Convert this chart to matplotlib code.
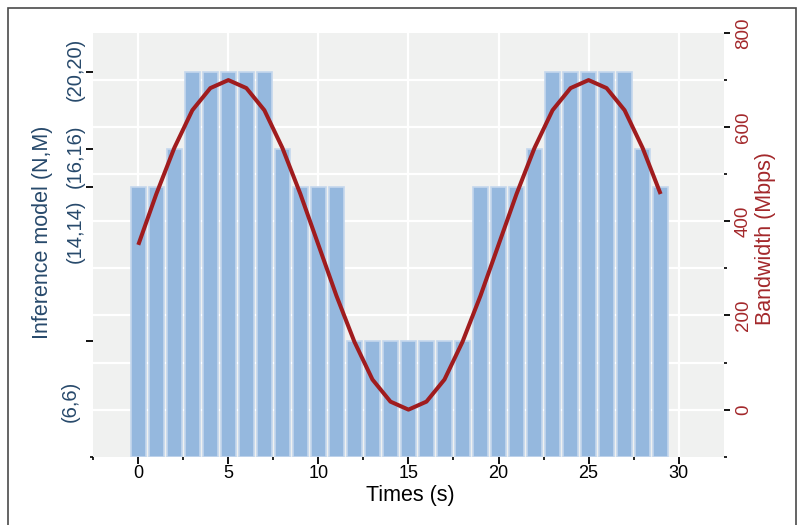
import matplotlib.pyplot as plt
from matplotlib.patches import Rectangle
import matplotlib.transforms as mtransforms

plt.rcParams['font.family'] = ['Liberation Sans', 'DejaVu Sans']

# data
times = list(range(30))
model_size = [14, 14, 16, 20, 20, 20, 20, 20, 16, 14,
              14, 14, 6, 6, 6, 6, 6, 6, 6, 14,
              14, 14, 16, 20, 20, 20, 20, 20, 16, 14]
bandwidth = [350, 458, 556, 636, 683, 700, 683, 636, 556, 458,
             350, 242, 144, 64, 17, 0, 17, 64, 144, 242,
             350, 458, 556, 636, 683, 700, 683, 636, 556, 458]

model_ticks = [6, 14, 16, 20]
model_labels = ['(6,6)', '(14,14)', '(16,16)', '(20,20)']
model_label_pos = [2.85, 11.7, 15.6, 20.1]
x_ticks = [0, 5, 10, 15, 20, 25, 30]
x_minor = [-2.5, 2.5, 7.5, 12.5, 17.5, 22.5, 27.5]
bw_ticks = [0, 200, 400, 600, 800]
bw_minor = [-100, 100, 300, 500, 700]
bw_grid = [0, 100, 200, 300, 400, 500, 600, 700]

blue_txt = '#27496b'
red_txt = '#a3282b'
bar_col = '#95b8de'
bar_edge = '#c4d7ed'
line_col = '#a01c1e'

fig = plt.figure(figsize=(8.02, 5.25), dpi=100)
rect = [0.1163, 0.1301, 0.786, 0.807]

# background panel with grid
ax_bg = fig.add_axes(rect, zorder=0)
ax_bg.set_facecolor('#f0f1f0')
ax_bg.set_xlim(-2.5, 32.5)
ax_bg.set_ylim(-100, 800)
ax_bg.set_xticks(x_ticks)
ax_bg.set_yticks(bw_grid)
ax_bg.grid(True, color='white', lw=1.6)
ax_bg.tick_params(length=0, labelleft=False, labelbottom=False)
for s in ax_bg.spines.values():
    s.set_visible(False)

# bars
ax = fig.add_axes(rect, zorder=1)
ax.patch.set_visible(False)
ax.bar(times, model_size, width=0.85, color=bar_col, edgecolor=bar_edge, lw=1.2)
ax.set_xlim(-2.5, 32.5)
ax.set_ylim(0, 22)
ax.set_xticks(x_ticks)
ax.set_xticks(x_minor, minor=True)
ax.set_yticks(model_ticks)
ax.set_yticks([0], minor=True)
ax.set_yticklabels([])
ax.tick_params(axis='x', length=5, width=1.3, pad=1, labelsize=13)
ax.tick_params(axis='y', length=5, width=1.3)
ax.tick_params(which='minor', length=2, width=1.2)
for s in ax.spines.values():
    s.set_visible(False)

trans = mtransforms.blended_transform_factory(ax.transAxes, ax.transData)
for lab, pos in zip(model_labels, model_label_pos):
    xx = -0.037 if lab == '(6,6)' else -0.029
    ax.text(xx, pos, lab, transform=trans, rotation=90, ha='center', va='center',
            fontsize=14.5, color=blue_txt)

ax.text(-0.081, 0.53, 'Inference model (N,M)', transform=ax.transAxes, rotation=90,
        ha='center', va='center', fontsize=15.5, color=blue_txt)
ax.text(0.503, -0.092, 'Times (s)', transform=ax.transAxes,
        ha='center', va='center', fontsize=15.5)

# bandwidth line
ax2 = ax.twinx()
ax2.plot(times, bandwidth, color=line_col, lw=2.9, solid_capstyle='butt')
ax2.set_ylim(-100, 800)
ax2.set_yticks(bw_ticks)
ax2.set_yticks(bw_minor, minor=True)
ax2.tick_params(axis='y', length=4, width=1.3, labelsize=13.5, labelcolor=red_txt,
                labelrotation=90, pad=4)
ax2.tick_params(axis='y', which='minor', length=2, width=1.2)
for lab in ax2.get_yticklabels():
    lab.set_va('center')
for s in ax2.spines.values():
    s.set_visible(False)
ax2.text(1.066, 0.514, 'Bandwidth (Mbps)', transform=ax.transAxes, rotation=90,
         ha='center', va='center', fontsize=15.5, color=red_txt)

# outer frame
fig.patches.append(Rectangle((0.01, -0.02), 0.9825, 1.005, transform=fig.transFigure,
                             fill=False, edgecolor='#4a4a4a', lw=1.2))

fig.savefig('out.png', dpi=100)
